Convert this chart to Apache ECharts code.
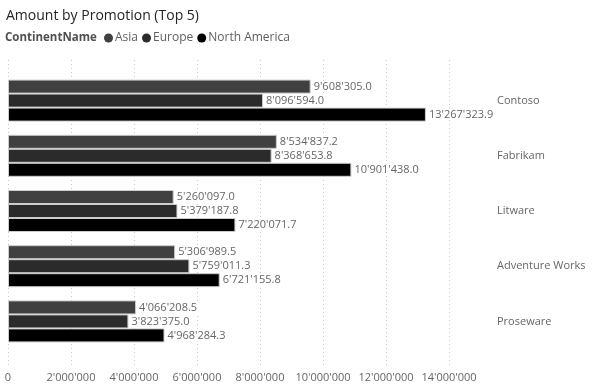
<!DOCTYPE html>
<html>
<head>
<meta charset="utf-8">
<script src="https://cdn.jsdelivr.net/npm/echarts@6/dist/echarts.min.js"></script>
<style>html,body{margin:0;padding:0;background:#fff;}#c{width:593px;height:384px;}</style>
</head>
<body>
<div id="c"></div>
<script>
var categories = ['Contoso', 'Fabrikam', 'Litware', 'Adventure Works', 'Proseware'];
var seriesNames = ['Asia', 'Europe', 'North America'];
var asia = [9608305.0, 8534837.2, 5260097.0, 5306989.5, 4066208.5];
var europe = [8096594.0, 8368653.8, 5379187.8, 5759011.3, 3823375.0];
var northAmerica = [13267323.9, 10901438.0, 7220071.7, 6721155.8, 4968284.3];
var colors = ['#404040', '#2b2b2b', '#000000'];
var xTicks = { min: 0, max: 14000000, interval: 2000000 };

function fmt(v, dec) {
  var s = Number(v).toFixed(dec);
  var parts = s.split('.');
  parts[0] = parts[0].replace(/\B(?=(\d{3})+(?!\d))/g, "'");
  return parts.join('.');
}

var FONT = 'Open Sans';
var values = [asia, europe, northAmerica];
var series = seriesNames.map(function (n, i) {
  return {
    name: n,
    type: 'bar',
    xAxisIndex: 1,
    yAxisIndex: 1,
    data: values[i],
    barWidth: 14,
    barGap: '0%',
    itemStyle: { color: colors[i], borderColor: '#cccccc', borderWidth: 1 },
    label: {
      show: true,
      position: 'right',
      distance: 2,
      color: '#666666',
      fontFamily: FONT,
      fontSize: 11,
      backgroundColor: '#ffffff',
      padding: [0, 1],
      formatter: function (p) { return fmt(p.value, 1); }
    },
    emphasis: { disabled: true }
  };
});

var chart = echarts.init(document.getElementById('c'), null, { renderer: 'canvas' });
chart.setOption({
  animation: false,
  title: {
    text: 'Amount by Promotion (Top 5)',
    left: 1, top: 4,
    textStyle: { fontFamily: FONT, fontSize: 14, fontWeight: 'normal', color: '#252423' }
  },
  graphic: [{
    type: 'text', left: 5, top: 32,
    style: { text: 'ContinentName', font: 'bold 11.5px "Open Sans"', fill: '#505050', textVerticalAlign: 'top' }
  }],
  legend: {
    data: seriesNames,
    left: 99, top: 27,
    icon: 'circle', itemWidth: 9, itemHeight: 9, itemGap: 4,
    itemStyle: { borderWidth: 0 },
    textStyle: { fontFamily: FONT, fontSize: 12, color: '#605e5c', padding: [0, 0, 0, -3] }
  },
  grid: [
    { left: 8, right: 144, top: 60, bottom: 19 },
    { left: 8, right: 144, top: 73, bottom: 35 }
  ],
  xAxis: [
    {
      gridIndex: 0, type: 'value', min: xTicks.min, max: xTicks.max, interval: xTicks.interval,
      axisLine: { show: false }, axisTick: { show: false },
      splitLine: { show: true, lineStyle: { color: '#c8c8c8', type: [1, 3], width: 1 } },
      axisLabel: { color: '#666666', fontFamily: FONT, fontSize: 11, margin: 7,
        formatter: function (v) { return fmt(v, 0); } }
    },
    {
      gridIndex: 1, type: 'value', min: xTicks.min, max: xTicks.max, interval: xTicks.interval,
      show: false, splitLine: { show: false }
    }
  ],
  yAxis: [
    { gridIndex: 0, type: 'value', min: 0, max: 1, show: false, splitLine: { show: false } },
    {
      gridIndex: 1, type: 'category', data: categories, position: 'right', inverse: true,
      axisLine: { show: false }, axisTick: { show: false }, splitLine: { show: false },
      axisLabel: { color: '#666666', fontFamily: FONT, fontSize: 11, margin: 48, align: 'left' }
    }
  ],
  series: series
});
</script>
</body>
</html>
